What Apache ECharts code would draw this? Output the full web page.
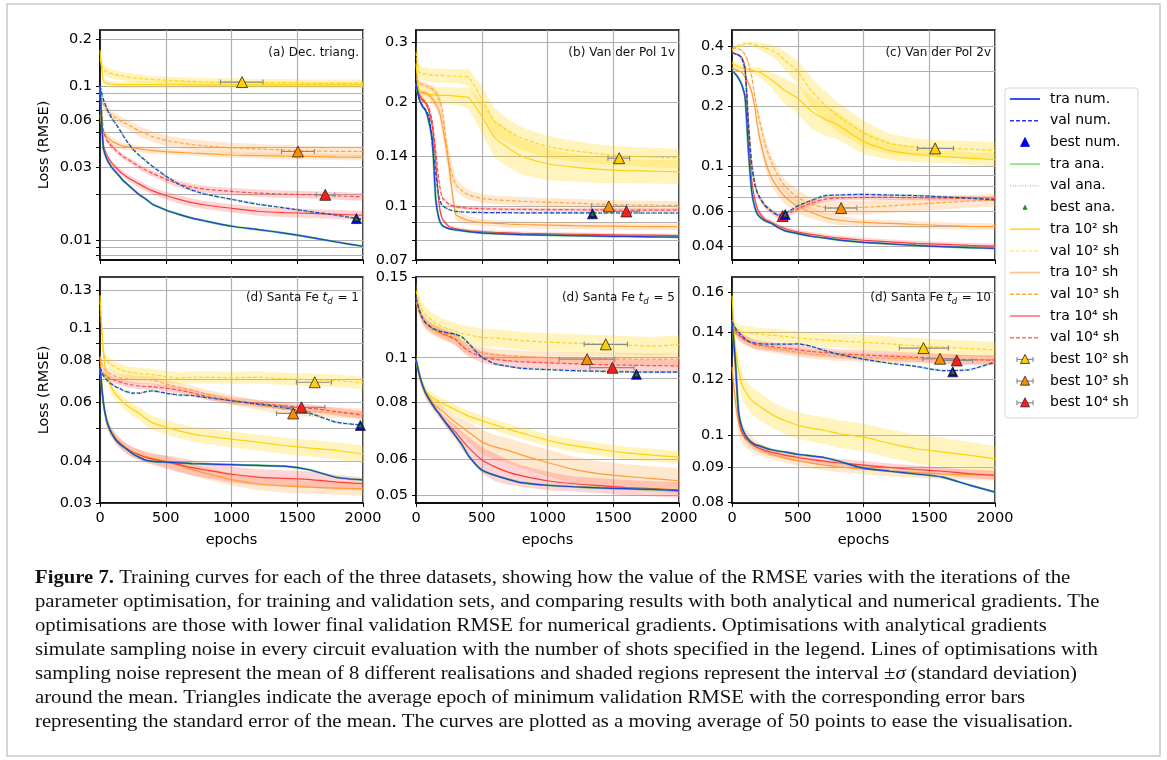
<!DOCTYPE html>
<html>
<head>
<meta charset="utf-8">
<script src="https://cdn.jsdelivr.net/npm/echarts@6/dist/echarts.min.js"></script>
<style>
  html, body { margin: 0; background: #fff; }
  #chart { width: 1167px; height: 760px; }
</style>
</head>
<body>
<div id="chart"></div>
<script>
const EPOCHS = [0, 25, 50, 75, 100, 125, 150, 175, 200, 250, 300, 350, 400, 500, 600, 700, 800, 1000, 1200, 1400, 1600, 1800, 2000];

// ---- (a) Dec. triang.
const decTraNum = [0.100, 0.040, 0.034, 0.031, 0.029, 0.0275, 0.026, 0.0245, 0.0235, 0.0215, 0.0198, 0.0185, 0.0172, 0.0158, 0.0148, 0.0140, 0.0134, 0.0124, 0.0118, 0.0112, 0.0105, 0.0098, 0.0092];
const decValNum = [0.100, 0.082, 0.072, 0.065, 0.060, 0.056, 0.052, 0.048, 0.0445, 0.039, 0.0355, 0.0327, 0.0302, 0.0262, 0.0232, 0.0212, 0.0200, 0.0185, 0.0172, 0.0163, 0.0154, 0.0146, 0.0137];
const decTra2 = [0.170, 0.108, 0.104, 0.103, 0.1025, 0.102, 0.102, 0.102, 0.102, 0.102, 0.102, 0.102, 0.102, 0.1018, 0.1018, 0.1017, 0.1017, 0.1016, 0.1016, 0.1015, 0.1015, 0.1015, 0.1015];
const decVal2 = [0.150, 0.128, 0.124, 0.121, 0.119, 0.118, 0.117, 0.116, 0.115, 0.113, 0.112, 0.111, 0.110, 0.109, 0.108, 0.107, 0.106, 0.106, 0.105, 0.105, 0.104, 0.104, 0.104];
const decTra3 = [0.065, 0.050, 0.047, 0.045, 0.0435, 0.0425, 0.0415, 0.041, 0.0405, 0.0398, 0.0392, 0.0387, 0.0382, 0.0376, 0.0372, 0.0368, 0.0365, 0.0358, 0.0355, 0.0352, 0.0350, 0.0347, 0.0345];
const decVal3 = [0.085, 0.076, 0.071, 0.067, 0.064, 0.062, 0.060, 0.058, 0.057, 0.054, 0.051, 0.049, 0.047, 0.0445, 0.043, 0.0418, 0.041, 0.0398, 0.0392, 0.0385, 0.0380, 0.0378, 0.0377];
const decTra4 = [0.100, 0.042, 0.036, 0.033, 0.031, 0.0295, 0.028, 0.027, 0.026, 0.0245, 0.0232, 0.022, 0.021, 0.0196, 0.0185, 0.0176, 0.017, 0.0162, 0.0155, 0.0152, 0.0150, 0.0148, 0.0146];
const decVal4 = [0.100, 0.052, 0.045, 0.042, 0.040, 0.038, 0.0365, 0.035, 0.034, 0.032, 0.030, 0.0285, 0.0272, 0.025, 0.0232, 0.0222, 0.0215, 0.0208, 0.0203, 0.0200, 0.0198, 0.0195, 0.0192];
const decSdTra2 = [0.006, 0.005, 0.005, 0.005, 0.005, 0.005, 0.005, 0.005, 0.005, 0.005, 0.005, 0.005, 0.005, 0.005, 0.005, 0.005, 0.005, 0.005, 0.005, 0.005, 0.005, 0.005, 0.005];
const decSdVal2 = [0.012, 0.010, 0.009, 0.008, 0.008, 0.008, 0.007, 0.007, 0.007, 0.007, 0.007, 0.006, 0.006, 0.006, 0.006, 0.006, 0.006, 0.006, 0.006, 0.006, 0.006, 0.006, 0.006];
const decSdTra3 = [0.004, 0.003, 0.003, 0.0025, 0.0025, 0.002, 0.002, 0.002, 0.002, 0.002, 0.0018, 0.0018, 0.0018, 0.0016, 0.0015, 0.0015, 0.0015, 0.0015, 0.0015, 0.0015, 0.0015, 0.0015, 0.0015];
const decSdVal3 = [0.005, 0.005, 0.0045, 0.0045, 0.0045, 0.0042, 0.004, 0.004, 0.004, 0.004, 0.004, 0.0038, 0.0036, 0.0035, 0.0035, 0.0034, 0.0033, 0.0032, 0.003, 0.003, 0.003, 0.003, 0.003];
const decSdTra4 = [0.002, 0.0015, 0.0014, 0.0013, 0.0013, 0.0012, 0.0012, 0.0012, 0.0012, 0.0012, 0.0012, 0.0011, 0.0011, 0.0011, 0.0011, 0.0011, 0.001, 0.001, 0.001, 0.001, 0.001, 0.001, 0.001];
const decSdVal4 = [0.002, 0.0018, 0.0016, 0.0015, 0.0015, 0.0014, 0.0014, 0.0014, 0.0013, 0.0013, 0.0013, 0.0012, 0.0012, 0.0012, 0.0012, 0.0012, 0.0011, 0.0011, 0.0011, 0.0011, 0.0011, 0.0011, 0.0011];
const decBestNum = [1950, 0.0139];
const decBestSh = [[1080, 0.106, 916, 1240], [1505, 0.0377, 1380, 1630], [1713, 0.0198, 1645, 1785]];
const decLabels = [0.01, 0.03, 0.06, 0.1, 0.2];
const decGrid = [0.008, 0.009, 0.01, 0.02, 0.03, 0.04, 0.05, 0.06, 0.07, 0.08, 0.09, 0.1, 0.2];

// ---- (b) Van der Pol 1v
const vdp1TraNum = [0.228, 0.205, 0.195, 0.189, 0.175, 0.155, 0.105, 0.092, 0.088, 0.0862, 0.0855, 0.085, 0.0845, 0.0838, 0.0834, 0.0831, 0.0828, 0.0825, 0.0822, 0.082, 0.0818, 0.0816, 0.0814];
const vdp1ValNum = [0.225, 0.205, 0.196, 0.190, 0.182, 0.150, 0.125, 0.106, 0.1005, 0.098, 0.0968, 0.0964, 0.0962, 0.096, 0.0959, 0.0959, 0.0958, 0.0958, 0.0958, 0.0957, 0.0957, 0.0957, 0.0957];
const vdp1Tra2 = [0.260, 0.215, 0.213, 0.212, 0.211, 0.211, 0.210, 0.210, 0.210, 0.210, 0.209, 0.208, 0.207, 0.183, 0.158, 0.148, 0.140, 0.133, 0.130, 0.128, 0.127, 0.1265, 0.126];
const vdp1Val2 = [0.280, 0.245, 0.243, 0.242, 0.241, 0.240, 0.240, 0.240, 0.240, 0.239, 0.239, 0.238, 0.237, 0.205, 0.176, 0.166, 0.158, 0.149, 0.145, 0.142, 0.140, 0.139, 0.138];
const vdp1Tra3 = [0.220, 0.215, 0.214, 0.213, 0.210, 0.205, 0.198, 0.190, 0.172, 0.132, 0.095, 0.0925, 0.091, 0.0898, 0.0893, 0.0889, 0.0886, 0.0882, 0.0879, 0.0877, 0.0875, 0.0874, 0.0873];
const vdp1Val3 = [0.235, 0.228, 0.226, 0.224, 0.222, 0.219, 0.214, 0.205, 0.190, 0.135, 0.116, 0.111, 0.108, 0.1055, 0.1045, 0.104, 0.1035, 0.1028, 0.1022, 0.1015, 0.101, 0.1008, 0.1007];
const vdp1Tra4 = [0.220, 0.210, 0.203, 0.199, 0.188, 0.170, 0.135, 0.102, 0.092, 0.0875, 0.0862, 0.0855, 0.085, 0.0845, 0.0841, 0.0838, 0.0835, 0.0832, 0.083, 0.0828, 0.0826, 0.0825, 0.0823];
const vdp1Val4 = [0.220, 0.212, 0.205, 0.200, 0.193, 0.175, 0.145, 0.118, 0.106, 0.1015, 0.0998, 0.0992, 0.0988, 0.0985, 0.0983, 0.0981, 0.098, 0.0979, 0.0978, 0.0977, 0.0976, 0.0975, 0.0975];
const vdp1SdTra2 = [0.020, 0.012, 0.012, 0.012, 0.012, 0.012, 0.012, 0.012, 0.012, 0.012, 0.012, 0.013, 0.015, 0.020, 0.020, 0.018, 0.016, 0.014, 0.012, 0.011, 0.010, 0.010, 0.010];
const vdp1SdVal2 = [0.020, 0.012, 0.011, 0.011, 0.011, 0.011, 0.011, 0.011, 0.011, 0.011, 0.011, 0.012, 0.014, 0.018, 0.016, 0.013, 0.012, 0.011, 0.010, 0.009, 0.009, 0.009, 0.009];
const vdp1SdTra3 = [0.005, 0.004, 0.004, 0.004, 0.004, 0.005, 0.006, 0.008, 0.010, 0.010, 0.004, 0.003, 0.0025, 0.0022, 0.002, 0.002, 0.002, 0.002, 0.002, 0.002, 0.002, 0.002, 0.002];
const vdp1SdVal3 = [0.005, 0.004, 0.004, 0.004, 0.004, 0.005, 0.006, 0.008, 0.010, 0.010, 0.005, 0.004, 0.0035, 0.003, 0.003, 0.003, 0.003, 0.003, 0.003, 0.003, 0.003, 0.003, 0.003];
const vdp1SdTra4 = [0.003, 0.002, 0.002, 0.002, 0.002, 0.003, 0.004, 0.003, 0.0015, 0.001, 0.001, 0.001, 0.001, 0.001, 0.001, 0.001, 0.001, 0.001, 0.001, 0.001, 0.001, 0.001, 0.001];
const vdp1SdVal4 = [0.003, 0.002, 0.002, 0.002, 0.002, 0.003, 0.004, 0.003, 0.0015, 0.0012, 0.0012, 0.0012, 0.0012, 0.0012, 0.0012, 0.0012, 0.0012, 0.0012, 0.0012, 0.0012, 0.0012, 0.0012, 0.0012];
const vdp1BestNum = [1342, 0.0952];
const vdp1BestSh = [[1545, 0.138, 1460, 1625], [1466, 0.100, 1335, 1600], [1600, 0.0967, 1500, 1700]];
const vdp1Labels = [0.07, 0.1, 0.14, 0.2, 0.3];
const vdp1Grid = [0.07, 0.08, 0.09, 0.1, 0.14, 0.2, 0.3];

// ---- (c) Van der Pol 2v
const vdp2TraNum = [0.300, 0.290, 0.275, 0.255, 0.220, 0.120, 0.075, 0.062, 0.057, 0.0535, 0.052, 0.0495, 0.0478, 0.0462, 0.0448, 0.044, 0.043, 0.0418, 0.041, 0.0403, 0.0398, 0.0393, 0.039];
const vdp2ValNum = [0.370, 0.365, 0.360, 0.345, 0.300, 0.160, 0.100, 0.080, 0.072, 0.064, 0.060, 0.0572, 0.058, 0.0635, 0.0675, 0.0713, 0.072, 0.0725, 0.072, 0.0715, 0.0705, 0.0695, 0.068];
const vdp2Tra2 = [0.330, 0.320, 0.315, 0.310, 0.307, 0.305, 0.303, 0.300, 0.297, 0.285, 0.270, 0.255, 0.240, 0.219, 0.190, 0.173, 0.162, 0.133, 0.120, 0.115, 0.112, 0.110, 0.108];
const vdp2Val2 = [0.380, 0.395, 0.400, 0.405, 0.410, 0.410, 0.410, 0.405, 0.400, 0.390, 0.380, 0.365, 0.340, 0.298, 0.240, 0.205, 0.180, 0.147, 0.130, 0.125, 0.123, 0.122, 0.120];
const vdp2Tra3 = [0.310, 0.305, 0.300, 0.295, 0.280, 0.260, 0.235, 0.195, 0.150, 0.108, 0.088, 0.078, 0.071, 0.063, 0.059, 0.0557, 0.054, 0.0525, 0.052, 0.0513, 0.0507, 0.0502, 0.050];
const vdp2Val3 = [0.390, 0.390, 0.385, 0.380, 0.360, 0.330, 0.280, 0.220, 0.180, 0.130, 0.105, 0.090, 0.080, 0.070, 0.065, 0.0624, 0.062, 0.0625, 0.0635, 0.0648, 0.066, 0.067, 0.068];
const vdp2Tra4 = [0.370, 0.365, 0.360, 0.350, 0.310, 0.150, 0.085, 0.068, 0.060, 0.0545, 0.0525, 0.0505, 0.049, 0.047, 0.0458, 0.0448, 0.044, 0.0428, 0.042, 0.0413, 0.0408, 0.0403, 0.040];
const vdp2Val4 = [0.370, 0.365, 0.360, 0.350, 0.310, 0.170, 0.105, 0.082, 0.072, 0.0635, 0.0595, 0.0568, 0.057, 0.0615, 0.0655, 0.0685, 0.0695, 0.070, 0.070, 0.0698, 0.0695, 0.0692, 0.069];
const vdp2SdTra2 = [0.010, 0.010, 0.010, 0.010, 0.010, 0.010, 0.012, 0.014, 0.016, 0.020, 0.025, 0.030, 0.035, 0.035, 0.035, 0.030, 0.025, 0.018, 0.012, 0.010, 0.008, 0.008, 0.008];
const vdp2SdVal2 = [0.010, 0.010, 0.010, 0.010, 0.010, 0.010, 0.012, 0.014, 0.016, 0.020, 0.025, 0.030, 0.035, 0.040, 0.040, 0.035, 0.030, 0.022, 0.015, 0.013, 0.012, 0.012, 0.012];
const vdp2SdTra3 = [0.005, 0.005, 0.005, 0.005, 0.008, 0.010, 0.012, 0.012, 0.012, 0.010, 0.008, 0.007, 0.006, 0.005, 0.004, 0.003, 0.003, 0.002, 0.002, 0.002, 0.002, 0.002, 0.002];
const vdp2SdVal3 = [0.005, 0.005, 0.005, 0.005, 0.008, 0.010, 0.012, 0.012, 0.012, 0.010, 0.008, 0.007, 0.006, 0.006, 0.005, 0.005, 0.005, 0.005, 0.005, 0.005, 0.005, 0.005, 0.005];
const vdp2SdTra4 = [0.003, 0.003, 0.003, 0.004, 0.006, 0.006, 0.004, 0.002, 0.0015, 0.0015, 0.0013, 0.0013, 0.0012, 0.0012, 0.0012, 0.0012, 0.0012, 0.0012, 0.0012, 0.0012, 0.0012, 0.0012, 0.0012];
const vdp2SdVal4 = [0.003, 0.003, 0.003, 0.004, 0.006, 0.006, 0.004, 0.003, 0.002, 0.002, 0.002, 0.002, 0.002, 0.002, 0.002, 0.002, 0.002, 0.002, 0.002, 0.002, 0.002, 0.002, 0.002];
const vdp2BestNum = [405, 0.0575];
const vdp2BestSh = [[1545, 0.123, 1410, 1684], [830, 0.062, 710, 950], [385, 0.0565, 360, 410]];
const vdp2Labels = [0.04, 0.06, 0.1, 0.2, 0.3, 0.4];
const vdp2Grid = [0.04, 0.05, 0.06, 0.07, 0.08, 0.09, 0.1, 0.2, 0.3, 0.4];

// ---- (d) Santa Fe td = 1
const sf1TraNum = [0.076, 0.060, 0.053, 0.0497, 0.0475, 0.046, 0.045, 0.0442, 0.0435, 0.042, 0.041, 0.0402, 0.0399, 0.0397, 0.0395, 0.0393, 0.0392, 0.039, 0.0388, 0.0386, 0.0376, 0.0357, 0.0351];
const sf1ValNum = [0.076, 0.072, 0.070, 0.0685, 0.0675, 0.0665, 0.066, 0.065, 0.0645, 0.0638, 0.0638, 0.0645, 0.0648, 0.0638, 0.063, 0.0628, 0.062, 0.0606, 0.0592, 0.0578, 0.0555, 0.0522, 0.0512];
const sf1Tra2 = [0.125, 0.085, 0.072, 0.068, 0.065, 0.063, 0.0615, 0.060, 0.0588, 0.057, 0.0555, 0.0535, 0.052, 0.0505, 0.0492, 0.0482, 0.0475, 0.0465, 0.0455, 0.0445, 0.0437, 0.043, 0.042];
const sf1Val2 = [0.120, 0.085, 0.080, 0.078, 0.077, 0.076, 0.0752, 0.0745, 0.074, 0.0735, 0.073, 0.0727, 0.0725, 0.0715, 0.0708, 0.0712, 0.0712, 0.071, 0.0712, 0.0705, 0.070, 0.0695, 0.0685];
const sf1Tra3 = [0.082, 0.060, 0.052, 0.049, 0.048, 0.0465, 0.0455, 0.0445, 0.0435, 0.0425, 0.0418, 0.0412, 0.0408, 0.0398, 0.0388, 0.0377, 0.0368, 0.0352, 0.0342, 0.0337, 0.0334, 0.0332, 0.033];
const sf1Val3 = [0.082, 0.076, 0.074, 0.073, 0.0722, 0.0715, 0.071, 0.0707, 0.0705, 0.0702, 0.070, 0.070, 0.0698, 0.068, 0.0665, 0.0652, 0.0635, 0.061, 0.0588, 0.0572, 0.0562, 0.0558, 0.0555];
const sf1Tra4 = [0.076, 0.060, 0.053, 0.0497, 0.0478, 0.0463, 0.0452, 0.0444, 0.0437, 0.0425, 0.0417, 0.041, 0.0405, 0.0398, 0.039, 0.0382, 0.0376, 0.0365, 0.0358, 0.0355, 0.0352, 0.0346, 0.0342];
const sf1Val4 = [0.076, 0.073, 0.0715, 0.0705, 0.070, 0.0695, 0.069, 0.0685, 0.068, 0.0675, 0.067, 0.0668, 0.0667, 0.066, 0.0652, 0.064, 0.0625, 0.0605, 0.0595, 0.0585, 0.0575, 0.0562, 0.0548];
const sf1SdTra2 = [0.004, 0.003, 0.003, 0.003, 0.003, 0.0025, 0.0025, 0.0025, 0.0025, 0.0025, 0.0025, 0.0025, 0.0025, 0.0025, 0.0025, 0.0025, 0.0025, 0.0025, 0.0025, 0.0025, 0.0025, 0.0025, 0.0025];
const sf1SdVal2 = [0.004, 0.0035, 0.003, 0.003, 0.003, 0.003, 0.003, 0.003, 0.003, 0.003, 0.003, 0.003, 0.003, 0.003, 0.003, 0.003, 0.003, 0.003, 0.003, 0.003, 0.003, 0.003, 0.003];
const sf1SdTra3 = [0.002, 0.0015, 0.0015, 0.0015, 0.0015, 0.0015, 0.0015, 0.0015, 0.0015, 0.0015, 0.0015, 0.0015, 0.0015, 0.0015, 0.0015, 0.0015, 0.0015, 0.0015, 0.0015, 0.0015, 0.0015, 0.0015, 0.0015];
const sf1SdVal3 = [0.002, 0.002, 0.002, 0.002, 0.002, 0.002, 0.002, 0.002, 0.002, 0.002, 0.002, 0.002, 0.002, 0.002, 0.002, 0.002, 0.002, 0.002, 0.002, 0.002, 0.002, 0.002, 0.002];
const sf1SdTra4 = [0.002, 0.0015, 0.0015, 0.0015, 0.0015, 0.0015, 0.0015, 0.0015, 0.0015, 0.0015, 0.0015, 0.0015, 0.0015, 0.0018, 0.002, 0.002, 0.002, 0.002, 0.002, 0.002, 0.002, 0.0018, 0.0015];
const sf1SdVal4 = [0.0015, 0.0015, 0.0015, 0.0015, 0.0015, 0.0015, 0.0015, 0.0015, 0.0015, 0.0015, 0.0015, 0.0015, 0.0015, 0.0015, 0.0015, 0.0015, 0.0015, 0.0015, 0.0015, 0.0015, 0.0015, 0.0015, 0.0015];
const sf1BestNum = [1980, 0.0511];
const sf1BestSh = [[1633, 0.0688, 1494, 1760], [1469, 0.0555, 1342, 1595], [1532, 0.0579, 1390, 1710]];
const sf1Labels = [0.03, 0.04, 0.06, 0.08, 0.1, 0.13];
const sf1Grid = [0.03, 0.04, 0.05, 0.06, 0.07, 0.08, 0.09, 0.1, 0.13];

// ---- (d) Santa Fe td = 5
const sf5TraNum = [0.099, 0.092, 0.087, 0.0835, 0.0812, 0.079, 0.077, 0.0755, 0.0738, 0.0705, 0.0675, 0.0645, 0.061, 0.0568, 0.0553, 0.0542, 0.0533, 0.0526, 0.0522, 0.0519, 0.0517, 0.0515, 0.0512];
const sf5ValNum = [0.135, 0.127, 0.122, 0.119, 0.1175, 0.116, 0.1152, 0.1145, 0.114, 0.1132, 0.1126, 0.111, 0.1075, 0.1003, 0.097, 0.0958, 0.0948, 0.0942, 0.0937, 0.0934, 0.0931, 0.093, 0.093];
const sf5Tra2 = [0.099, 0.092, 0.087, 0.0845, 0.083, 0.0818, 0.081, 0.0802, 0.0795, 0.0782, 0.077, 0.0757, 0.0745, 0.0728, 0.0713, 0.0698, 0.0685, 0.066, 0.0642, 0.063, 0.0619, 0.0612, 0.0606];
const sf5Val2 = [0.140, 0.132, 0.127, 0.124, 0.122, 0.1205, 0.119, 0.118, 0.1168, 0.1155, 0.1142, 0.113, 0.1122, 0.1108, 0.1105, 0.1098, 0.109, 0.1082, 0.1076, 0.1072, 0.1066, 0.106, 0.107];
const sf5Tra3 = [0.099, 0.091, 0.0865, 0.083, 0.0808, 0.0795, 0.0785, 0.0775, 0.0765, 0.0742, 0.0722, 0.0705, 0.0688, 0.0655, 0.0638, 0.0627, 0.0613, 0.059, 0.057, 0.0557, 0.055, 0.0544, 0.0538];
const sf5Val3 = [0.132, 0.126, 0.121, 0.118, 0.1165, 0.1152, 0.1142, 0.1133, 0.1125, 0.111, 0.1095, 0.1065, 0.1045, 0.1025, 0.1015, 0.101, 0.1006, 0.100, 0.0998, 0.0996, 0.0994, 0.0993, 0.0993];
const sf5Tra4 = [0.099, 0.092, 0.087, 0.0835, 0.0812, 0.079, 0.077, 0.0755, 0.0738, 0.071, 0.0688, 0.066, 0.0636, 0.0598, 0.0577, 0.0562, 0.0552, 0.0538, 0.053, 0.0525, 0.052, 0.0517, 0.0514];
const sf5Val4 = [0.135, 0.127, 0.122, 0.119, 0.1175, 0.116, 0.115, 0.114, 0.113, 0.1115, 0.1098, 0.106, 0.1035, 0.1005, 0.0992, 0.0985, 0.098, 0.0975, 0.097, 0.0966, 0.0963, 0.0961, 0.096];
const sf5SdTra2 = [0.003, 0.0025, 0.0022, 0.002, 0.002, 0.002, 0.002, 0.002, 0.002, 0.002, 0.002, 0.002, 0.002, 0.002, 0.002, 0.002, 0.002, 0.002, 0.002, 0.002, 0.002, 0.002, 0.002];
const sf5SdVal2 = [0.006, 0.005, 0.005, 0.005, 0.005, 0.005, 0.005, 0.005, 0.005, 0.005, 0.005, 0.005, 0.005, 0.005, 0.005, 0.005, 0.005, 0.005, 0.005, 0.005, 0.005, 0.005, 0.005];
const sf5SdTra3 = [0.002, 0.002, 0.002, 0.002, 0.002, 0.002, 0.002, 0.002, 0.002, 0.0022, 0.0025, 0.003, 0.0035, 0.004, 0.004, 0.004, 0.004, 0.004, 0.0038, 0.0036, 0.0035, 0.0035, 0.0035];
const sf5SdVal3 = [0.004, 0.003, 0.003, 0.003, 0.003, 0.003, 0.003, 0.003, 0.003, 0.003, 0.003, 0.003, 0.003, 0.003, 0.003, 0.003, 0.003, 0.003, 0.003, 0.003, 0.003, 0.003, 0.003];
const sf5SdTra4 = [0.002, 0.0015, 0.0015, 0.0015, 0.0015, 0.0015, 0.0015, 0.0015, 0.0015, 0.002, 0.0025, 0.003, 0.0035, 0.004, 0.004, 0.0035, 0.003, 0.0025, 0.002, 0.002, 0.002, 0.002, 0.002];
const sf5SdVal4 = [0.004, 0.003, 0.003, 0.003, 0.003, 0.003, 0.003, 0.003, 0.003, 0.003, 0.003, 0.003, 0.003, 0.003, 0.003, 0.003, 0.003, 0.003, 0.003, 0.003, 0.003, 0.003, 0.003];
const sf5BestNum = [1676, 0.092];
const sf5BestSh = [[1443, 0.107, 1279, 1608], [1301, 0.0993, 1089, 1512], [1494, 0.0951, 1322, 1658]];
const sf5Labels = [0.05, 0.06, 0.08, 0.1, 0.15];
const sf5Grid = [0.05, 0.06, 0.07, 0.08, 0.09, 0.1, 0.15];

// ---- (d) Santa Fe td = 10
const sf10TraNum = [0.145, 0.128, 0.108, 0.1025, 0.100, 0.0985, 0.0975, 0.0968, 0.0965, 0.0958, 0.0952, 0.0948, 0.0945, 0.0938, 0.0933, 0.0928, 0.0918, 0.0896, 0.0887, 0.0879, 0.087, 0.0848, 0.0828];
const sf10ValNum = [0.145, 0.142, 0.140, 0.1385, 0.137, 0.136, 0.1355, 0.1352, 0.135, 0.1348, 0.1347, 0.1347, 0.1347, 0.1348, 0.1338, 0.132, 0.1305, 0.1282, 0.1265, 0.1252, 0.1235, 0.1238, 0.127];
const sf10Tra2 = [0.158, 0.133, 0.124, 0.118, 0.1155, 0.1135, 0.112, 0.111, 0.1102, 0.1085, 0.107, 0.1058, 0.1048, 0.1032, 0.1022, 0.1015, 0.1005, 0.0992, 0.0972, 0.0955, 0.0945, 0.0935, 0.0924];
const sf10Val2 = [0.146, 0.142, 0.141, 0.1405, 0.140, 0.1398, 0.1396, 0.1394, 0.1392, 0.139, 0.1388, 0.1385, 0.1382, 0.1375, 0.137, 0.1365, 0.1362, 0.1355, 0.1348, 0.134, 0.1334, 0.1328, 0.1322];
const sf10Tra3 = [0.125, 0.112, 0.104, 0.1005, 0.099, 0.098, 0.097, 0.0962, 0.0956, 0.0947, 0.0939, 0.0932, 0.0927, 0.0918, 0.0911, 0.0905, 0.090, 0.0893, 0.0887, 0.0883, 0.0879, 0.0877, 0.0875];
const sf10Val3 = [0.142, 0.140, 0.1385, 0.1375, 0.1365, 0.1358, 0.1352, 0.1346, 0.134, 0.1335, 0.133, 0.1325, 0.132, 0.1312, 0.1305, 0.130, 0.1296, 0.129, 0.1286, 0.1284, 0.1282, 0.128, 0.128];
const sf10Tra4 = [0.145, 0.125, 0.106, 0.101, 0.099, 0.098, 0.097, 0.0963, 0.0958, 0.095, 0.0944, 0.094, 0.0935, 0.0928, 0.0922, 0.0917, 0.0912, 0.0905, 0.0898, 0.0892, 0.0887, 0.088, 0.0875];
const sf10Val4 = [0.144, 0.141, 0.139, 0.1375, 0.1365, 0.1358, 0.135, 0.1346, 0.1344, 0.134, 0.1337, 0.1333, 0.133, 0.1322, 0.1315, 0.131, 0.1305, 0.130, 0.1295, 0.129, 0.1285, 0.128, 0.1278];
const sf10SdTra2 = [0.006, 0.005, 0.005, 0.005, 0.005, 0.005, 0.005, 0.005, 0.005, 0.0048, 0.0046, 0.0045, 0.0045, 0.0045, 0.0045, 0.0045, 0.0045, 0.0045, 0.0045, 0.0045, 0.0045, 0.0042, 0.004];
const sf10SdVal2 = [0.003, 0.003, 0.003, 0.003, 0.003, 0.003, 0.003, 0.003, 0.003, 0.003, 0.003, 0.003, 0.003, 0.003, 0.003, 0.003, 0.003, 0.0035, 0.0035, 0.0035, 0.0035, 0.0035, 0.0035];
const sf10SdTra3 = [0.004, 0.004, 0.004, 0.0035, 0.003, 0.0028, 0.0025, 0.0022, 0.002, 0.0018, 0.0016, 0.0015, 0.0015, 0.0015, 0.0015, 0.0015, 0.0015, 0.0015, 0.0015, 0.0015, 0.0015, 0.0015, 0.0015];
const sf10SdVal3 = [0.002, 0.002, 0.002, 0.002, 0.002, 0.002, 0.002, 0.002, 0.002, 0.002, 0.002, 0.002, 0.002, 0.002, 0.002, 0.002, 0.002, 0.002, 0.002, 0.002, 0.002, 0.002, 0.002];
const sf10SdTra4 = [0.002, 0.0015, 0.0012, 0.0012, 0.0012, 0.0012, 0.0012, 0.0012, 0.0012, 0.0012, 0.0012, 0.0012, 0.0012, 0.0012, 0.0012, 0.0012, 0.0012, 0.0012, 0.0012, 0.0012, 0.0012, 0.0012, 0.0012];
const sf10SdVal4 = [0.002, 0.002, 0.002, 0.002, 0.002, 0.002, 0.002, 0.002, 0.002, 0.002, 0.002, 0.002, 0.002, 0.002, 0.002, 0.002, 0.002, 0.002, 0.002, 0.002, 0.002, 0.002, 0.002];
const sf10BestNum = [1679, 0.123];
const sf10BestSh = [[1456, 0.133, 1273, 1646], [1582, 0.1284, 1450, 1710], [1709, 0.1277, 1590, 1830]];
const sf10Labels = [0.08, 0.09, 0.1, 0.12, 0.14, 0.16];
const sf10Grid = [0.08, 0.09, 0.1, 0.12, 0.14, 0.16];

const X_TICKS = [0, 500, 1000, 1500, 2000];

// ---------------------------------------------------------------------------
const TICK_FONT = 'DejaVu Sans';
const SHOT_LINE = ['#ffd000', '#ff9a2e', '#ff3434'];
const SHOT_BAND = ['rgba(255,213,0,0.26)', 'rgba(255,160,60,0.24)', 'rgba(255,60,60,0.22)'];
const SHOT_TRI = ['#ffd000', '#ff8c00', '#ff1a1a'];

const panels = [
  { title: '(a) Dec. triang.', min: 0.0075, max: 0.23, labels: decLabels, grid: decGrid,
    traNum: decTraNum, valNum: decValNum, tra: [decTra2, decTra3, decTra4], val: [decVal2, decVal3, decVal4],
    sdTra: [decSdTra2, decSdTra3, decSdTra4], sdVal: [decSdVal2, decSdVal3, decSdVal4], bestNum: decBestNum, bestSh: decBestSh },
  { title: '(b) Van der Pol 1v', min: 0.0699, max: 0.325, labels: vdp1Labels, grid: vdp1Grid,
    traNum: vdp1TraNum, valNum: vdp1ValNum, tra: [vdp1Tra2, vdp1Tra3, vdp1Tra4], val: [vdp1Val2, vdp1Val3, vdp1Val4],
    sdTra: [vdp1SdTra2, vdp1SdTra3, vdp1SdTra4], sdVal: [vdp1SdVal2, vdp1SdVal3, vdp1SdVal4], bestNum: vdp1BestNum, bestSh: vdp1BestSh },
  { title: '(c) Van der Pol 2v', min: 0.0341, max: 0.48, labels: vdp2Labels, grid: vdp2Grid,
    traNum: vdp2TraNum, valNum: vdp2ValNum, tra: [vdp2Tra2, vdp2Tra3, vdp2Tra4], val: [vdp2Val2, vdp2Val3, vdp2Val4],
    sdTra: [vdp2SdTra2, vdp2SdTra3, vdp2SdTra4], sdVal: [vdp2SdVal2, vdp2SdVal3, vdp2SdVal4], bestNum: vdp2BestNum, bestSh: vdp2BestSh },
  { title: '(d) Santa Fe {it|t}{sub|d} = 1', min: 0.02995, max: 0.142, labels: sf1Labels, grid: sf1Grid,
    traNum: sf1TraNum, valNum: sf1ValNum, tra: [sf1Tra2, sf1Tra3, sf1Tra4], val: [sf1Val2, sf1Val3, sf1Val4],
    sdTra: [sf1SdTra2, sf1SdTra3, sf1SdTra4], sdVal: [sf1SdVal2, sf1SdVal3, sf1SdVal4], bestNum: sf1BestNum, bestSh: sf1BestSh },
  { title: '(d) Santa Fe {it|t}{sub|d} = 5', min: 0.0481, max: 0.1502, labels: sf5Labels, grid: sf5Grid,
    traNum: sf5TraNum, valNum: sf5ValNum, tra: [sf5Tra2, sf5Tra3, sf5Tra4], val: [sf5Val2, sf5Val3, sf5Val4],
    sdTra: [sf5SdTra2, sf5SdTra3, sf5SdTra4], sdVal: [sf5SdVal2, sf5SdVal3, sf5SdVal4], bestNum: sf5BestNum, bestSh: sf5BestSh },
  { title: '(d) Santa Fe {it|t}{sub|d} = 10', min: 0.0799, max: 0.168, labels: sf10Labels, grid: sf10Grid,
    traNum: sf10TraNum, valNum: sf10ValNum, tra: [sf10Tra2, sf10Tra3, sf10Tra4], val: [sf10Val2, sf10Val3, sf10Val4],
    sdTra: [sf10SdTra2, sf10SdTra3, sf10SdTra4], sdVal: [sf10SdVal2, sf10SdVal3, sf10SdVal4], bestNum: sf10BestNum, bestSh: sf10BestSh },
];

const GRIDS = [
  { left: 100, top: 30, width: 263, height: 230 },
  { left: 416, top: 30, width: 263, height: 230 },
  { left: 732, top: 30, width: 263, height: 230 },
  { left: 100, top: 277, width: 263, height: 226 },
  { left: 416, top: 277, width: 263, height: 226 },
  { left: 732, top: 277, width: 263, height: 226 },
];

function pairs(ys) {
  return EPOCHS.map((x, i) => [x, ys[i]]);
}

function lineSeries(gi, ys, color, type, width, opacity, z) {
  return {
    type: 'line', xAxisIndex: gi, yAxisIndex: gi, data: pairs(ys), z: z,
    showSymbol: false, symbol: 'none', smooth: 0.2, silent: true,
    lineStyle: { color: color, width: width, type: type, opacity: opacity },
  };
}

// shaded ±sigma region, drawn as one polygon
function bandSeries(gi, mean, sd, fill) {
  return {
    type: 'custom', xAxisIndex: gi, yAxisIndex: gi, z: 1, clip: true, silent: true,
    data: [[EPOCHS[0], mean[0]]],
    renderItem: function (params, api) {
      const up = EPOCHS.map((x, i) => api.coord([x, mean[i] + sd[i]]));
      const lo = EPOCHS.map((x, i) => api.coord([x, mean[i] - sd[i]])).reverse();
      return { type: 'polygon', shape: { points: up.concat(lo) }, style: { fill: fill } };
    },
  };
}

function errorBarSeries(gi, best) {
  return {
    type: 'custom', xAxisIndex: gi, yAxisIndex: gi, z: 6, silent: true,
    data: best.map(b => [b[2], b[3], b[1]]),
    encode: { x: [0, 1], y: 2 },
    renderItem: function (params, api) {
      const a = api.coord([api.value(0), api.value(2)]);
      const b = api.coord([api.value(1), api.value(2)]);
      const st = { stroke: '#8c8c8c', lineWidth: 1.2 };
      return {
        type: 'group', children: [
          { type: 'line', shape: { x1: a[0], y1: a[1], x2: b[0], y2: b[1] }, style: st },
          { type: 'line', shape: { x1: a[0], y1: a[1] - 2.5, x2: a[0], y2: a[1] + 2.5 }, style: st },
          { type: 'line', shape: { x1: b[0], y1: b[1] - 2.5, x2: b[0], y2: b[1] + 2.5 }, style: st },
        ],
      };
    },
  };
}

function triSeries(gi, pts, color, size, z) {
  return {
    type: 'scatter', xAxisIndex: gi, yAxisIndex: gi, data: pts, z: z, silent: true,
    symbol: 'triangle', symbolSize: size,
    itemStyle: { color: color, borderColor: '#222', borderWidth: 0.8, opacity: 1 },
  };
}

const series = [];
panels.forEach((p, gi) => {
  for (let k = 0; k < 3; k++) {
    series.push(bandSeries(gi, p.tra[k], p.sdTra[k], SHOT_BAND[k]));
    series.push(bandSeries(gi, p.val[k], p.sdVal[k], SHOT_BAND[k]));
  }
  for (let k = 0; k < 3; k++) {
    series.push(lineSeries(gi, p.tra[k], SHOT_LINE[k], 'solid', 1.2, 0.95, 3));
    series.push(lineSeries(gi, p.val[k], SHOT_LINE[k], [4, 2], 1.2, 0.85, 3));
  }
  // analytical-gradient curves sit right under the numerical ones
  series.push(lineSeries(gi, p.traNum, '#3cb44b', 'solid', 2.2, 0.75, 4));
  series.push(lineSeries(gi, p.valNum, '#3cb44b', [1, 1.5], 2.2, 0.75, 4));
  series.push(lineSeries(gi, p.traNum, '#1f3fd8', 'solid', 1.2, 1, 5));
  series.push(lineSeries(gi, p.valNum, '#1f3fd8', [4, 2], 1.2, 1, 5));
  series.push(errorBarSeries(gi, p.bestSh));
  p.bestSh.forEach((b, k) => series.push(triSeries(gi, [[b[0], b[1]]], SHOT_TRI[k], 11, 7)));
  series.push(triSeries(gi, [p.bestNum], '#0000ee', 10, 7));
  series.push(triSeries(gi, [[p.bestNum[0], p.bestNum[1]]], '#1a8a1a', 5, 8));
});

const xAxes = panels.map((p, gi) => ({
  type: 'value', gridIndex: gi, min: 0, max: 2000, interval: 500,
  axisLine: { show: true, onZero: false, lineStyle: { color: '#000', width: 1.5 } },
  axisTick: { show: true, length: 4, lineStyle: { color: '#000', width: 1 } },
  axisLabel: { show: gi >= 3, customValues: X_TICKS, color: '#000', fontFamily: TICK_FONT, fontSize: 14.5, margin: 8,
    formatter: v => String(Math.round(v)) },
  splitLine: { show: true, lineStyle: { color: '#b0b0b0', width: 1.2 } },
  name: gi >= 3 ? 'epochs' : '', nameLocation: 'middle', nameGap: 30,
  nameTextStyle: { color: '#000', fontFamily: TICK_FONT, fontSize: 14.5 },
}));

const yAxes = panels.map((p, gi) => ({
  type: 'log', logBase: 10, gridIndex: gi, min: p.min, max: p.max,
  axisLine: { show: true, lineStyle: { color: '#000', width: 1.5 } },
  axisTick: { show: true, length: 4, customValues: p.grid, lineStyle: { color: '#000', width: 1 } },
  axisLabel: {
    customValues: p.labels, color: '#000', fontFamily: TICK_FONT, fontSize: 14.5, margin: 8,
    formatter: v => String(Number((+v).toPrecision(3))),
  },
  splitLine: { show: true, lineStyle: { color: '#b0b0b0', width: 1.2 } },
  minorTick: { show: false }, minorSplitLine: { show: false },
  name: gi % 3 === 0 ? 'Loss (RMSE)' : '', nameLocation: 'middle', nameGap: 48, nameRotate: 90,
  nameTextStyle: { color: '#000', fontFamily: TICK_FONT, fontSize: 14.5 },
}));

// ---- legend, drawn with graphic elements
const LEGEND = [
  ['tra num.', 'line', '#1f3fe8', 'solid'],
  ['val num.', 'line', '#1f3fe8', 'dash'],
  ['best num.', 'tri', '#0000ee', 9],
  ['tra ana.', 'line', '#90e090', 'solid'],
  ['val ana.', 'line', '#90e090', 'dot'],
  ['best ana.', 'tri', '#1a8a1a', 4],
  ['tra 10² sh', 'line', '#ffd84a', 'solid'],
  ['val 10² sh', 'line', '#ffe27a', 'dash'],
  ['tra 10³ sh', 'line', '#ffc48a', 'solid'],
  ['val 10³ sh', 'line', '#ffa640', 'dash'],
  ['tra 10⁴ sh', 'line', '#ff8585', 'solid'],
  ['val 10⁴ sh', 'line', '#ff7070', 'dash'],
  ['best 10² sh', 'err', '#ffd000', 9],
  ['best 10³ sh', 'err', '#ff8c00', 9],
  ['best 10⁴ sh', 'err', '#ff1a1a', 9],
];

function triPoints(cx, cy, s) {
  return [[cx, cy - s * 0.55], [cx - s / 2, cy + s * 0.45], [cx + s / 2, cy + s * 0.45]];
}

const legendEls = [{
  type: 'rect', shape: { x: 1005, y: 88, width: 133, height: 330, r: 3 },
  style: { fill: '#fff', stroke: '#d6d6d6', lineWidth: 1 }, z: 10,
}];
LEGEND.forEach((it, i) => {
  const y = 99 + i * 21.7;
  if (it[1] === 'line') {
    const dash = it[3] === 'dash' ? [4, 2] : it[3] === 'dot' ? [1, 1.5] : null;
    legendEls.push({ type: 'line', z: 11, shape: { x1: 1010, y1: y, x2: 1040, y2: y },
      style: { stroke: it[2], lineWidth: it[3] === 'solid' ? 1.8 : 1.4, lineDash: dash } });
  } else {
    if (it[1] === 'err') {
      legendEls.push({ type: 'line', z: 11, shape: { x1: 1017, y1: y, x2: 1033, y2: y }, style: { stroke: '#8c8c8c', lineWidth: 1.2 } });
      legendEls.push({ type: 'line', z: 11, shape: { x1: 1017, y1: y - 2.5, x2: 1017, y2: y + 2.5 }, style: { stroke: '#8c8c8c', lineWidth: 1.2 } });
      legendEls.push({ type: 'line', z: 11, shape: { x1: 1033, y1: y - 2.5, x2: 1033, y2: y + 2.5 }, style: { stroke: '#8c8c8c', lineWidth: 1.2 } });
    }
    legendEls.push({ type: 'polygon', z: 12, shape: { points: triPoints(1025, y, it[3]) },
      style: { fill: it[2], stroke: it[1] === 'err' ? '#222' : it[2], lineWidth: 0.8 } });
  }
  legendEls.push({ type: 'text', z: 12, x: 1050, y: y,
    style: { text: it[0], fill: '#000', fontFamily: TICK_FONT, fontSize: 14,
      align: 'left', verticalAlign: 'middle', textAlign: 'left', textVerticalAlign: 'middle' } });
});

// ---- panel titles
const titleEls = panels.map((p, gi) => {
  const g = GRIDS[gi];
  return {
    type: 'text', z: 10, x: g.left + g.width - 4, y: g.top + (gi < 3 ? 23 : 21),
    style: {
      text: p.title, fill: '#111', fontFamily: TICK_FONT, fontSize: 12,
      align: 'right', verticalAlign: 'middle', textAlign: 'right', textVerticalAlign: 'middle',
      rich: {
        it: { fontStyle: 'italic', fontFamily: TICK_FONT, fontSize: 12 },
        sub: { fontStyle: 'italic', fontFamily: TICK_FONT, fontSize: 8.5, padding: [7, 1, 0, 0] },
      },
    },
  };
});

// ---- caption
const CAPTION = [
  '{b|Figure 7.} Training curves for each of the three datasets, showing how the value of the RMSE varies with the iterations of the',
  'parameter optimisation, for training and validation sets, and comparing results with both analytical and numerical gradients. The',
  'optimisations are those with lower final validation RMSE for numerical gradients. Optimisations with analytical gradients',
  'simulate sampling noise in every circuit evaluation with the number of shots specified in the legend. Lines of optimisations with',
  'sampling noise represent the mean of 8 different realisations and shaded regions represent the interval ±{i|σ} (standard deviation)',
  'around the mean. Triangles indicate the average epoch of minimum validation RMSE with the corresponding error bars',
  'representing the standard error of the mean. The curves are plotted as a moving average of 50 points to ease the visualisation.',
];
const captionEls = CAPTION.map((line, i) => ({
  type: 'text', x: 35, y: 578 + i * 24, scaleX: 1.09, scaleY: 1,
  style: {
    text: line, fill: '#111', fontFamily: 'Liberation Serif', fontSize: 19,
    align: 'left', verticalAlign: 'middle', textAlign: 'left', textVerticalAlign: 'middle',
    rich: {
      b: { fontWeight: 'bold', fontFamily: 'Liberation Serif', fontSize: 19 },
      i: { fontStyle: 'italic', fontFamily: 'Liberation Serif', fontSize: 19 },
    },
  },
}));

const frameEl = {
  type: 'rect', shape: { x: 7, y: 4, width: 1153, height: 752 },
  style: { fill: 'none', stroke: '#c8c8c8', lineWidth: 1.5 }, z: 0,
};

const chart = echarts.init(document.getElementById('chart'));
chart.setOption({
  animation: false,
  backgroundColor: '#fff',
  grid: GRIDS.map(g => Object.assign({ show: true, borderColor: '#000', borderWidth: 1.5, backgroundColor: 'transparent' }, g)),
  xAxis: xAxes,
  yAxis: yAxes,
  series: series,
  graphic: [frameEl].concat(titleEls, legendEls, captionEls),
});
</script>
</body>
</html>
